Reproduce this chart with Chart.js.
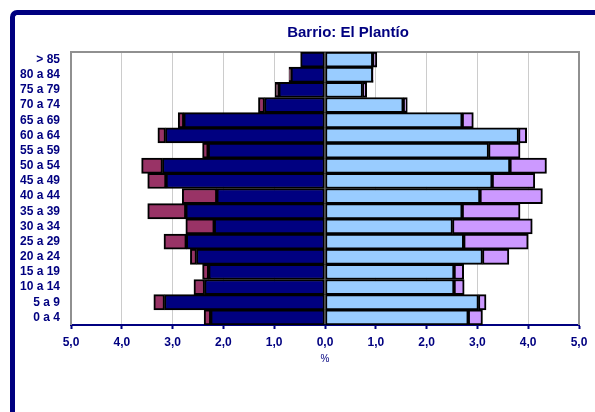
<!DOCTYPE html>
<html>
<head>
<meta charset="utf-8">
<script src="https://cdn.jsdelivr.net/npm/chart.js@4/dist/chart.umd.min.js"></script>
<style>
  html, body { margin: 0; padding: 0; background: #fff; overflow: hidden; }
  #frame {
    position: absolute; left: 10px; top: 10px; width: 620px; height: 430px;
    border-left: 5px solid #000080; border-top: 5px solid #000080;
    border-top-left-radius: 7px; box-sizing: border-box;
  }
  #c { position: absolute; left: 0; top: 0; }
</style>
</head>
<body>
<div id="frame"></div>
<canvas id="c" width="595" height="412"></canvas>
<script>
// grupos de edad, de arriba a abajo
const ageGroups = ['> 85', '80 a 84', '75 a 79', '70 a 74', '65 a 69', '60 a 64', '55 a 59', '50 a 54',
  '45 a 49', '40 a 44', '35 a 39', '30 a 34', '25 a 29', '20 a 24', '15 a 19', '10 a 14', '5 a 9', '0 a 4'];

// % hombres (lado izquierdo)
const menSpanish = [0.48, 0.67, 0.91, 1.19, 2.78, 3.14, 2.30, 3.20, 3.13, 2.13, 2.74, 2.18, 2.73, 2.53, 2.29, 2.37, 3.16, 2.25];
const menForeign = [0.00, 0.04, 0.07, 0.12, 0.11, 0.15, 0.11, 0.41, 0.36, 0.68, 0.75, 0.56, 0.44, 0.12, 0.12, 0.21, 0.21, 0.13];
// % mujeres (lado derecho)
const womenSpanish = [0.94, 0.94, 0.74, 1.54, 2.70, 3.81, 3.22, 3.64, 3.29, 3.05, 2.70, 2.51, 2.73, 3.10, 2.54, 2.54, 3.02, 2.82];
const womenForeign = [0.08, 0.01, 0.08, 0.08, 0.22, 0.16, 0.62, 0.72, 0.84, 1.23, 1.14, 1.57, 1.27, 0.52, 0.19, 0.20, 0.15, 0.28];

const NAVY = '#000080';

function bar(label, data, color) {
  return {
    label: label,
    data: data,
    backgroundColor: color,
    borderColor: '#000000',
    borderWidth: 2,
    borderSkipped: false,
    barPercentage: 1.0,
    categoryPercentage: 1.0,
    stack: 'p'
  };
}

// titulo y bordes del area de trazado
const extras = {
  id: 'extras',
  beforeDatasetsDraw(chart) {
    const {ctx, chartArea: a} = chart;
    ctx.save();
    ctx.strokeStyle = '#909090';
    ctx.lineWidth = 2;
    ctx.beginPath();
    ctx.moveTo(a.left, a.bottom);
    ctx.lineTo(a.left, a.top);
    ctx.lineTo(a.right, a.top);
    ctx.lineTo(a.right, a.bottom);
    ctx.stroke();
    ctx.restore();
  },
  afterDraw(chart) {
    const ctx = chart.ctx;
    ctx.save();
    ctx.fillStyle = NAVY;
    ctx.font = 'bold 15px Arial, "Liberation Sans", sans-serif';
    ctx.textAlign = 'center';
    ctx.textBaseline = 'middle';
    ctx.fillText('Barrio: El Plantío', 348, 33);
    ctx.restore();
  }
};

new Chart(document.getElementById('c'), {
  type: 'bar',
  data: {
    labels: ageGroups,
    datasets: [
      bar('Hombres españoles', menSpanish.map(v => -v), NAVY),
      bar('Hombres extranjeros', menForeign.map(v => -v), '#993366'),
      bar('Mujeres españolas', womenSpanish, '#99CCFF'),
      bar('Mujeres extranjeras', womenForeign, '#CC99FF')
    ]
  },
  options: {
    indexAxis: 'y',
    responsive: false,
    animation: false,
    layout: { padding: { top: 52, right: 16, left: 0, bottom: 0 } },
    plugins: { legend: { display: false }, tooltip: { enabled: false } },
    scales: {
      x: {
        stacked: true,
        min: -5, max: 5,
        afterFit(s) { s.height = 87; },
        ticks: {
          stepSize: 1,
          color: NAVY,
          font: { family: 'Arial, "Liberation Sans", sans-serif', size: 12, weight: 'bold' },
          padding: 6,
          maxRotation: 0,
          callback: v => Math.abs(v).toFixed(1).replace('.', ',')
        },
        grid: { color: '#cccccc', tickColor: NAVY, tickLength: 4, tickWidth: 2 },
        border: { color: NAVY, width: 2 },
        title: {
          display: true,
          text: '%',
          color: NAVY,
          font: { family: 'Arial, "Liberation Sans", sans-serif', size: 10 },
          padding: { top: 0, bottom: 47 }
        }
      },
      y: {
        stacked: true,
        afterFit(s) { s.width = 71; },
        ticks: {
          color: NAVY,
          autoSkip: false,
          font: { family: 'Arial, "Liberation Sans", sans-serif', size: 12, weight: 'bold' },
          padding: 11
        },
        grid: { display: false, drawTicks: false },
        border: { display: false }
      }
    }
  },
  plugins: [extras]
});
</script>
</body>
</html>
